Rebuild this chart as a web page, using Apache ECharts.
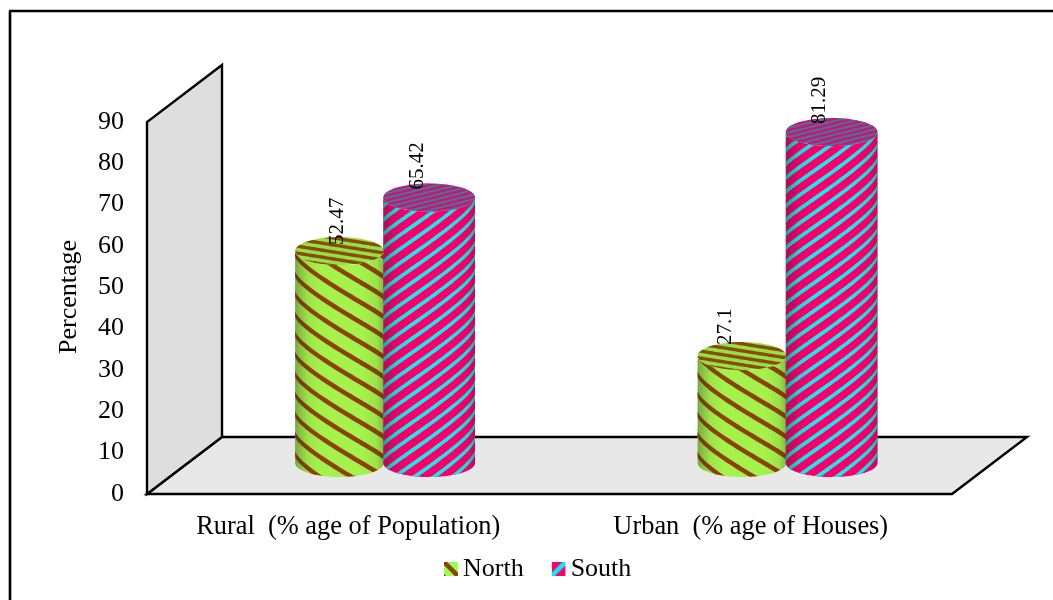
<!DOCTYPE html>
<html><head><meta charset="utf-8">
<style>html,body{margin:0;padding:0;background:#fff}#c{width:1053px;height:600px}</style>
<script src="https://cdn.jsdelivr.net/npm/echarts@6/dist/echarts.min.js"></script>
</head><body><div id="c"></div>
<script>
const categories = ['Rural  (% age of Population)', 'Urban  (% age of Houses)'];
const north = [52.47, 27.1];
const south = [65.42, 81.29];
const yTicksMax = 90;
const FONT = '"Liberation Serif","Times New Roman",serif';

const DEPTH_X = 75, DEPTH_Y = -57;
const looks = {
  North: {off: -0.022, rad: 0.110, base: '#a6f24c', stripe: '#8a4300', slope: 0.62, period: 20, thick: 5.4,
          cap: '#97e044', capStripe: '#8a4a08', capSlope: 0.16, capPeriod: 7, capThick: 3.4, nudgeX: [-2, -16], nudgeY: [-6, -11]},
  South: {off: 0.201, rad: 0.114, base: '#f8006a', stripe: '#22e4ea', slope: -0.72, period: 14, thick: 4.6,
          cap: '#c4186f', capStripe: '#4f6f9f', capSlope: -0.25, capPeriod: 4.6, capThick: 2.1, nudgeX: [-12, -12], nudgeY: [-8, -8]}
};
const STRIPE_BOW = 0.3, STRIPE_WRAP = 0.3;

function swatch(bg, fg, dir) {
  const cv = document.createElement('canvas'); cv.width = cv.height = 14;
  const g = cv.getContext('2d'); g.fillStyle = bg; g.fillRect(0, 0, 14, 14);
  g.strokeStyle = fg; g.lineWidth = 4.5; g.beginPath();
  if (dir > 0) { g.moveTo(0, 0); g.lineTo(14, 14); g.stroke(); g.beginPath(); g.lineWidth = 3; g.moveTo(-2, 12); g.lineTo(2, 16); g.stroke(); }
  else { g.moveTo(0, 14); g.lineTo(14, 0); g.stroke(); }
  return {image: cv, repeat: 'no-repeat'};
}
const clamp = (v, a, b) => Math.max(a, Math.min(b, v));

function cylinder(seriesName) {
  const L = looks[seriesName];
  return function (params, api) {
    const i = api.value(0), v = api.value(1);
    const c = api.coord([i, v]), c0 = api.coord([i, 0]), band = api.size([1, 0])[0];
    const cx = c[0] + L.off * band, r = L.rad * band, ry = 14;
    const topY = c[1] - 26, baseY = c0[1] - 31;
    const kids = [];
    const N = 48, th = k => -Math.PI / 2 + Math.PI * k / N;
    const body = [];
    for (let k = 0; k <= N; k++) body.push([cx + r * Math.sin(th(k)), topY + ry * Math.cos(th(k))]);
    for (let k = N; k >= 0; k--) body.push([cx + r * Math.sin(th(k)), baseY + ry * Math.cos(th(k))]);
    kids.push({type: 'polygon', shape: {points: body}, style: {fill: L.base}});
    const reach = Math.abs(L.slope) * r * 1.3;
    for (let y0 = baseY + reach + 24; y0 > topY - reach - 24; y0 -= L.period) {
      const up = [], lo = [];
      let any = false;
      for (let k = 0; k <= N; k++) {
        const t = th(k), e = ry * Math.cos(t);
        const f = y0 + L.slope * r * ((1 - STRIPE_WRAP) * Math.sin(t) + STRIPE_WRAP * t) + STRIPE_BOW * e;
        const a = clamp(f, topY + e, baseY + e), b = clamp(f + L.thick, topY + e, baseY + e);
        if (b > a) any = true;
        up.push([cx + r * Math.sin(t), a]); lo.unshift([cx + r * Math.sin(t), b]);
      }
      if (any) kids.push({type: 'polygon', shape: {points: up.concat(lo)}, style: {fill: L.stripe}});
    }
    kids.push({type: 'polygon', shape: {points: body}, style: {fill: {type: 'linear', x: 0, y: 0, x2: 1, y2: 0, colorStops: [
      {offset: 0, color: 'rgba(40,40,40,0.36)'}, {offset: 0.14, color: 'rgba(40,40,40,0.08)'}, {offset: 0.28, color: 'rgba(40,40,40,0)'},
      {offset: 0.76, color: 'rgba(40,40,40,0)'}, {offset: 0.92, color: 'rgba(40,40,40,0.08)'}, {offset: 1, color: 'rgba(40,40,40,0.28)'}]}}});
    kids.push({type: 'ellipse', shape: {cx: cx, cy: topY, rx: r, ry: ry}, style: {fill: L.cap}});
    const capReach = Math.abs(L.capSlope) * r;
    for (let y0 = topY + ry + capReach; y0 > topY - ry - capReach - L.capThick; y0 -= L.capPeriod) {
      const up = [], lo = [];
      let any = false;
      for (let k = 0; k <= N; k++) {
        const u = -1 + 2 * k / N, x = cx + r * u, h = ry * Math.sqrt(Math.max(0, 1 - u * u));
        const f = y0 + L.capSlope * r * u;
        const a = clamp(f, topY - h, topY + h), b = clamp(f + L.capThick, topY - h, topY + h);
        if (b > a) any = true;
        up.push([x, a]); lo.unshift([x, b]);
      }
      if (any) kids.push({type: 'polygon', shape: {points: up.concat(lo)}, style: {fill: L.capStripe}});
    }
    kids.push({type: 'text', x: cx + L.nudgeX[i], y: topY + L.nudgeY[i], rotation: Math.PI / 2,
      style: {text: String(v), font: '21px ' + FONT, fill: '#000', align: 'left', verticalAlign: 'middle'}});
    return {type: 'group', children: kids};
  };
}

function room(params, api) {
  const s = params.coordSys, x0 = s.x, x1 = s.x + s.width, y0 = s.y + s.height, y1 = s.y;
  const line = {stroke: '#000', lineWidth: 2.4, lineJoin: 'miter'};
  return {type: 'group', children: [
    {type: 'polygon', shape: {points: [[x0, y0], [x1, y0], [x1 + DEPTH_X, y0 + DEPTH_Y], [x0 + DEPTH_X, y0 + DEPTH_Y]]},
     style: Object.assign({fill: '#e8e8e8'}, line)},
    {type: 'polygon', shape: {points: [[x0, y0], [x0, y1], [x0 + DEPTH_X, y1 + DEPTH_Y], [x0 + DEPTH_X, y0 + DEPTH_Y]]},
     style: Object.assign({fill: '#dedede'}, line)}
  ]};
}

const chart = echarts.init(document.getElementById('c'), null, {renderer: 'canvas'});
chart.setOption({
  animation: false,
  backgroundColor: '#fff',
  textStyle: {fontFamily: FONT},
  grid: {left: 147, right: 101, top: 122, bottom: 106},
  xAxis: {type: 'category', data: categories, axisTick: {show: false},
    axisLine: {show: true, lineStyle: {color: '#000', width: 2}},
    axisLabel: {color: '#000', fontFamily: FONT, fontSize: 26.4, margin: 20}},
  yAxis: {type: 'value', min: 0, max: yTicksMax, interval: 10, splitLine: {show: false}, axisTick: {show: false},
    axisLine: {show: true, lineStyle: {color: '#000', width: 2}},
    axisLabel: {color: '#000', fontFamily: FONT, fontSize: 26, margin: 23},
    name: 'Percentage', nameLocation: 'middle', nameGap: 65,
    nameTextStyle: {color: '#000', fontFamily: FONT, fontSize: 26, padding: [0, 0, 0, 22]}},
  legend: {left: 439, top: 551, itemWidth: 14, itemHeight: 14, itemGap: 28, icon: 'rect',
    textStyle: {color: '#000', fontFamily: FONT, fontSize: 26},
    data: [
      {name: 'North', itemStyle: {color: swatch('#99ff55', '#8a4300', 1)}},
      {name: 'South', itemStyle: {color: swatch('#ff0066', '#00f0ff', -1)}}
    ]},
  graphic: [
    {type: 'line', shape: {x1: 10, y1: 11, x2: 10, y2: 600}, style: {stroke: '#000', lineWidth: 2.6}},
    {type: 'line', shape: {x1: 9, y1: 11, x2: 1053, y2: 11}, style: {stroke: '#000', lineWidth: 2.6}}
  ],
  series: [
    {type: 'custom', name: 'room', renderItem: room, data: [[0, 0]], silent: true, clip: false, z: 1},
    {type: 'custom', name: 'North', renderItem: cylinder('North'), data: north.map((v, i) => [i, v]), clip: false, z: 3,
     encode: {x: 0, y: 1}, itemStyle: {color: '#a6f24c'}},
    {type: 'custom', name: 'South', renderItem: cylinder('South'), data: south.map((v, i) => [i, v]), clip: false, z: 4,
     encode: {x: 0, y: 1}, itemStyle: {color: '#f8006a'}}
  ]
});
</script></body></html>
